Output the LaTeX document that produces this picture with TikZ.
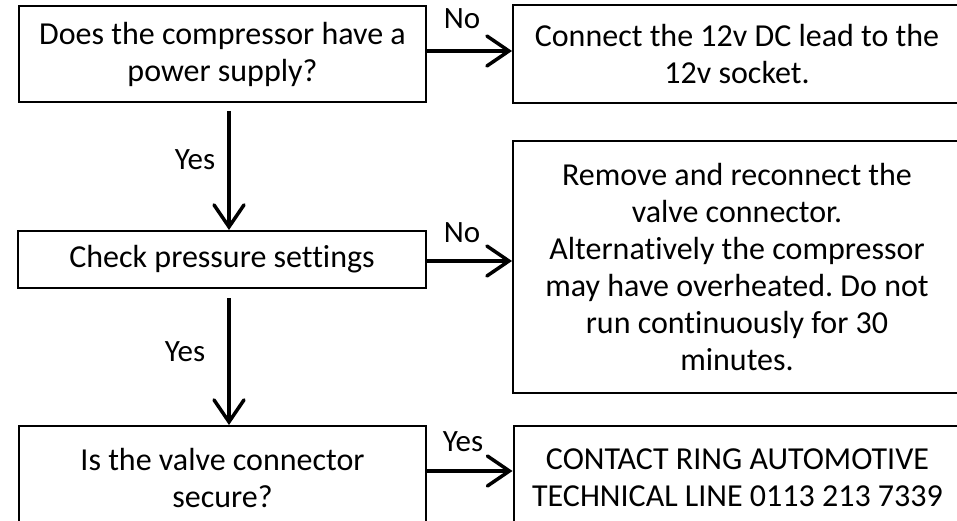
\documentclass[tikz,border=0pt]{standalone}
\usepackage{fontspec}
\setmainfont{Carlito}[Ligatures={NoCommon}]
\usetikzlibrary{arrows.meta}
\frenchspacing
\begin{document}
\begin{tikzpicture}[x=1pt,y=-1pt,
  box/.style={draw,line width=2pt,align=center,inner sep=0pt,
    font=\fontsize{32}{37}\selectfont},
  arr/.style={line width=3.5pt,-{Straight Barb[length=22pt,width=30pt,line cap=round]}},
  lbl/.style={font=\fontsize{31}{37}\selectfont,inner sep=0pt}]
\useasboundingbox (0,0) rectangle (957,521);
\clip (0,0) rectangle (957,521);
\node[box,minimum width=407pt,minimum height=96pt] (b1) at (222.5,54)
  {Does the compressor have a\\power supply?};
\node[box,minimum width=448pt,minimum height=98pt] (b2) at (737,54)
  {Connect the 12v DC lead to the\\12v socket.};
\node[box,minimum width=408pt,minimum height=57pt] (b3) at (222,259.5)
  {Check pressure settings};
\node[box,minimum width=448pt,minimum height=252pt] (b4) at (737,267)
  {Remove and reconnect the\\valve connector.\\Alternatively the compressor\\may have overheated. Do not\\run continuously for 30\\minutes.};
\node[box,minimum width=407pt,minimum height=104pt] (b5) at (222.5,478)
  {Is the valve connector\\secure?};
\node[box,minimum width=448pt,minimum height=104pt] (b6) at (737.5,478)
  {CONTACT RING AUTOMOTIVE\\TECHNICAL LINE 0113 213 7339};
\coordinate (s1) at (229,111);
\coordinate (s2) at (229,298);
\draw[arr] ([yshift=3pt]b1.east) -- ([yshift=3pt]b2.west);
\draw[arr] (s1) -- (s1 |- b3.north);
\draw[arr] ([yshift=-1.5pt]b3.east) -- ([yshift=-1.5pt]b3.east -| b4.west);
\draw[arr] (s2) -- (s2 |- b5.north);
\draw[arr] ([yshift=7pt]b5.east) -- ([yshift=7pt]b5.east -| b6.west);
\node[lbl] (n1) at (462,19) {No};
\node[lbl] (n2) at (462,233) {No};
\node[lbl] (y1) at (195,160) {Yes};
\node[lbl] (y2) at (185,352) {Yes};
\node[lbl] (y3) at (463,442) {Yes};
\end{tikzpicture}
\end{document}
